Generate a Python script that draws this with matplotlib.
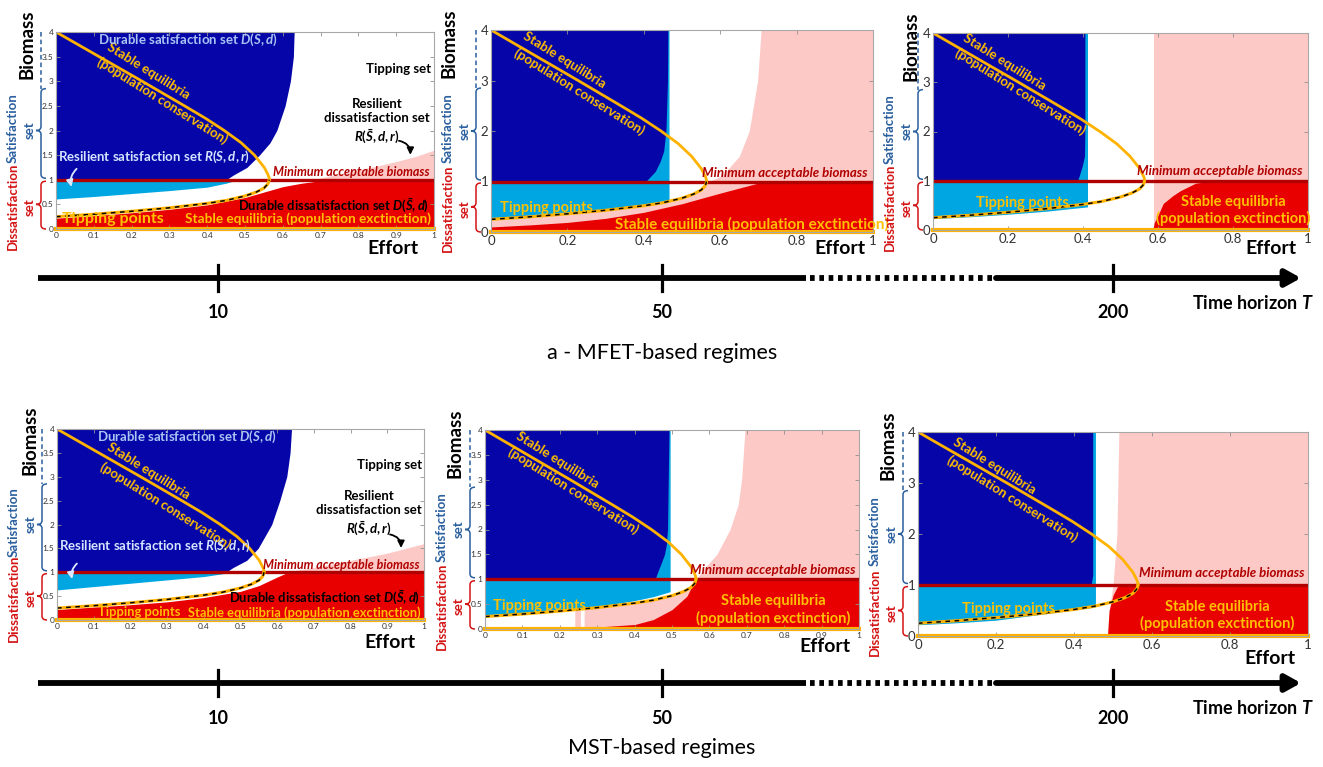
import numpy as np
import matplotlib.pyplot as plt
from matplotlib.path import Path
from matplotlib.patches import PathPatch

plt.rcParams['font.family'] = ['Lato', 'DejaVu Sans']
plt.rcParams['mathtext.fontset'] = 'custom'
plt.rcParams['mathtext.rm'] = 'Lato:bold'
plt.rcParams['mathtext.it'] = 'Lato:bold:italic'
plt.rcParams['mathtext.bf'] = 'Lato:bold'

# --- data (effort e, biomass B) ---
min_biomass = 1.0
extinct_B = 0.0
horizons = [10, 50, 200]
regimes = ['a - MFET-based regimes', 'MST-based regimes']

# stable equilibria (population conservation)
eq_high_e = [0.564, 0.5635, 0.561, 0.551, 0.525, 0.49, 0.445, 0.395, 0.34, 0.228, 0.114, 0.0]
eq_high_B = [1.0, 1.05, 1.1, 1.25, 1.5, 1.75, 2.0, 2.25, 2.5, 3.0, 3.5, 4.0]
# tipping points (unstable equilibria)
tip_e = [0.0, 0.1, 0.2, 0.3, 0.4, 0.45, 0.5, 0.53, 0.55, 0.56, 0.5625, 0.564]
tip_B = [0.25, 0.3, 0.36, 0.43, 0.52, 0.58, 0.67, 0.75, 0.83, 0.91, 0.95, 1.0]

# MFET, T = 10
p1_dblue_B = [4, 3.5, 3, 2.5, 2, 1.75, 1.5, 1.25, 1.1, 1.0]
p1_dblue_e = [0.63, 0.628, 0.62, 0.606, 0.584, 0.566, 0.538, 0.505, 0.47, 0.45]
p1_lblue_e = [0, 0.1, 0.2, 0.3, 0.4, 0.45, 0.48]
p1_lblue_low = [0.61, 0.66, 0.72, 0.78, 0.85, 0.93, 1.0]
p1_lblue_top = 1.0
p1_red_e = [0, 0.1, 0.2, 0.3, 0.4, 0.5, 0.55, 0.6, 0.65, 0.7, 0.75, 1.0]
p1_red_top = [0.22, 0.27, 0.33, 0.40, 0.49, 0.64, 0.75, 0.86, 0.93, 0.98, 1.0, 1.0]
p1_pink_e = [0.68, 0.75, 0.8, 0.85, 0.9, 0.95, 1.0]
p1_pink_top = [1.0, 1.12, 1.2, 1.28, 1.37, 1.47, 1.6]

# MFET, T = 50
p2_dblue_B = [4, 3, 2, 1.6, 1.4, 1.2, 1.0]
p2_dblue_e = [0.463, 0.462, 0.458, 0.452, 0.443, 0.43, 0.405]
p2_lblue_e = [0, 0.1, 0.2, 0.3, 0.4, 0.466]
p2_lblue_low = [0.26, 0.3, 0.36, 0.43, 0.52, 0.6]
p2_lblue_top = 4.0
p2_red_e = [0, 0.1, 0.2, 0.3, 0.4, 0.5, 0.6, 0.65, 0.7, 0.72, 1.0]
p2_red_top = [0.1, 0.14, 0.19, 0.27, 0.39, 0.56, 0.77, 0.87, 0.97, 1.0, 1.0]
p2_pink_e = [0, 0.1, 0.2, 0.3, 0.4, 0.5, 0.55, 0.57, 0.6, 0.615, 0.65, 0.676, 0.698, 0.707, 1.0]
p2_pink_top = [0.25, 0.3, 0.36, 0.43, 0.52, 0.67, 0.82, 1.0, 1.1, 1.2, 1.5, 2.0, 3.0, 4.0, 4.0]

# MFET, T = 200
p3_dblue_B = [4, 2, 1.5, 1.3, 1.1, 1.0]
p3_dblue_e = [0.405, 0.405, 0.404, 0.398, 0.39, 0.385]
p3_lblue_e = [0, 0.1, 0.2, 0.3, 0.4, 0.412]
p3_lblue_low = [0.23, 0.27, 0.32, 0.38, 0.46, 0.47]
p3_lblue_top = 4.0
p3_red_e = [0.586, 0.59, 0.6, 0.614, 0.64, 0.66, 0.7, 0.75, 1.0]
p3_red_top = [0.0, 0.15, 0.3, 0.54, 0.7, 0.8, 0.95, 1.0, 1.0]
p3_pink_e = [0.59, 1.0]
p3_pink_top = [4.0, 4.0]

# MST, T = 10
p4_dblue_B = [4, 3.5, 3, 2.5, 2, 1.5, 1.25, 1.1, 1.0]
p4_dblue_e = [0.639, 0.635, 0.626, 0.607, 0.585, 0.548, 0.517, 0.48, 0.46]
p4_lblue_e = [0, 0.1, 0.2, 0.3, 0.4, 0.47]
p4_lblue_low = [0.63, 0.7, 0.77, 0.84, 0.91, 0.99]
p4_lblue_top = 1.0
p4_red_e = [0, 0.1, 0.2, 0.3, 0.4, 0.5, 0.55, 0.6, 0.63, 1.0]
p4_red_top = [0.22, 0.27, 0.32, 0.38, 0.47, 0.6, 0.72, 0.9, 1.0, 1.0]
p4_pink_e = [0.62, 0.7, 0.8, 0.9, 1.0]
p4_pink_top = [1.0, 1.1, 1.25, 1.4, 1.6]

# MST, T = 50
p5_dblue_B = [4, 2, 1.7, 1.5, 1.3, 1.15, 1.0]
p5_dblue_e = [0.492, 0.488, 0.485, 0.48, 0.47, 0.462, 0.455]
p5_lblue_e = [0, 0.1, 0.2, 0.3, 0.4, 0.45, 0.495]
p5_lblue_low = [0.28, 0.32, 0.37, 0.45, 0.57, 0.65, 0.75]
p5_lblue_top = 4.0
p5_red_e = [0.27, 0.3, 0.4, 0.45, 0.5, 0.54, 0.557, 0.57, 1.0]
p5_red_top = [0.02, 0.04, 0.09, 0.19, 0.39, 0.66, 0.92, 1.0, 1.0]
p5_pink_e = [0.24, 0.255, 0.2551, 0.265, 0.2651, 0.3, 0.4, 0.5, 0.55, 0.566, 0.584,
             0.62, 0.655, 0.677, 0.686, 0.695, 1.0]
p5_pink_top = [0.37, 0.38, 0.0, 0.0, 0.39, 0.43, 0.52, 0.67, 0.82, 1.0, 1.2,
               1.5, 2.0, 2.5, 3.0, 4.0, 4.0]

# MST, T = 200
p6_dblue_B = [4, 1.2, 1.0]
p6_dblue_e = [0.448, 0.448, 0.444]
p6_lblue_e = [0, 0.1, 0.2, 0.3, 0.4, 0.455]
p6_lblue_low = [0.22, 0.26, 0.31, 0.41, 0.51, 0.57]
p6_lblue_top = 4.0
p6_red_e = [0.486, 0.49, 0.5, 0.51, 0.515, 1.0]
p6_red_top = [0.0, 0.5, 0.8, 0.95, 1.0, 1.0]
p6_pink_e = [0.485, 0.49, 0.5, 0.505, 0.51, 0.515, 1.0]
p6_pink_top = [0.0, 0.5, 1.0, 1.5, 2.0, 4.0, 4.0]

# colours
DBLUE = '#0606a8'
LBLUE = '#00a6e2'
RED = '#e80000'
PINK = '#fdc9c6'
LINE_RED = '#b00000'
YEL = '#ffb300'
TXT_Y = '#ffc000'
SAT_C = '#2a5f9e'
DIS_C = '#d41414'

W, H = 1323, 767
fig = plt.figure(figsize=(W / 100, H / 100), dpi=100)

# overlay in pixel coordinates for the decorations around the panels
ov = fig.add_axes([0, 0, 1, 1], zorder=10)
ov.set_xlim(0, W)
ov.set_ylim(H, 0)
ov.axis('off')


def px_axes(box):
    x0, x1, yt, yb = box
    return fig.add_axes([x0 / W, 1 - yb / H, (x1 - x0) / W, (yb - yt) / H])


def brace(x, ytop, ybot, ytip, color, w=5):
    r = 4
    verts = [(x + w, ytop), (x, ytop), (x, ytop + r),
             (x, ytip - r), (x, ytip), (x - w, ytip),
             (x, ytip), (x, ytip + r),
             (x, ybot - r), (x, ybot), (x + w, ybot)]
    codes = [Path.MOVETO, Path.CURVE3, Path.CURVE3,
             Path.LINETO, Path.CURVE3, Path.CURVE3,
             Path.CURVE3, Path.CURVE3,
             Path.LINETO, Path.CURVE3, Path.CURVE3]
    ov.add_patch(PathPatch(Path(verts, codes), fc='none', ec=color, lw=1.1))


def draw_panel(ax, box, pink, red, lblue, dblue, fine):
    ax.fill_between(pink[0], 0, pink[1], color=PINK, lw=0)
    ax.fill_between(red[0], 0, red[1], color=RED, lw=0)
    ax.fill_between(lblue[0], lblue[1], lblue[2], color=LBLUE, lw=0)
    ax.fill_betweenx(dblue[0], 0, dblue[1], color=DBLUE, lw=0)
    ax.axhline(min_biomass, color=LINE_RED, lw=2.4)
    ax.plot(eq_high_e, eq_high_B, color=YEL, lw=2)
    ax.plot(tip_e, tip_B, color=YEL, lw=2.2)
    ax.plot(tip_e, tip_B, color='k', lw=1.1, dashes=(3, 3))
    ax.axhline(extinct_B, color=YEL, lw=3, clip_on=False)
    ax.set_xlim(0, 1)
    ax.set_ylim(0, 4)
    if fine:
        xt, yt, fs = np.arange(0, 1.01, 0.1), np.arange(0, 4.01, 0.5), 6
    else:
        xt, yt, fs = np.arange(0, 1.01, 0.2), np.arange(0, 4.01, 1), 9.5
    ax.set_xticks(xt)
    ax.set_yticks(yt)
    ax.set_xticklabels(['%g' % round(v, 1) for v in xt])
    ax.set_yticklabels(['%g' % v for v in yt])
    ax.tick_params(direction='in', length=3, width=0.6, color='#909090',
                   labelcolor='#333333', labelsize=fs, top=True, right=True, pad=2)
    for s in ax.spines.values():
        s.set_color('#a8a8a8')
        s.set_linewidth(0.8)

    # side brackets
    x0, x1, ytp, ybt = box
    yp = lambda b: ybt - b / 4 * (ybt - ytp)
    xb = x0 - 15
    ov.plot([xb, xb], [yp(4), yp(2.85)], color=SAT_C, lw=1.1, dashes=(3, 2))
    brace(xb, yp(2.85), yp(1.03), yp(2.0), SAT_C)
    brace(xb, yp(0.97), yp(0.0), yp(0.5), DIS_C)
    ov.text(xb - 11, yp(2.0), 'set', color=SAT_C, fontsize=9.5, fontweight='bold',
            rotation=90, ha='center', va='center')
    ov.text(x0 - 43, yp(2.05), 'Satisfaction', color=SAT_C, fontsize=9.5,
            fontweight='bold', rotation=90, ha='center', va='center')
    ov.text(xb - 11, yp(0.45), 'set', color=DIS_C, fontsize=9.5, fontweight='bold',
            rotation=90, ha='center', va='center')
    ov.text(x0 - 43, yp(0.5) + 2, 'Dissatisfaction', color=DIS_C, fontsize=9.5,
            fontweight='bold', rotation=90, ha='center', va='center')


def txt(ax, x, y, s, color, size=9.5, ha='center', rot=0, style='normal'):
    ax.text(x, y, s, color=color, fontsize=size, fontweight='bold', ha=ha,
            va='center', rotation=rot, rotation_mode='anchor', fontstyle=style)


boxes = [(56, 434, 32, 229), (491, 873, 30, 232), (933, 1308, 33, 230),
         (57, 424, 429, 620), (485, 859, 430, 629), (918, 1308, 432, 636)]
panels = [
    ((p1_pink_e, p1_pink_top), (p1_red_e, p1_red_top),
     (p1_lblue_e, p1_lblue_low, p1_lblue_top), (p1_dblue_B, p1_dblue_e), True),
    ((p2_pink_e, p2_pink_top), (p2_red_e, p2_red_top),
     (p2_lblue_e, p2_lblue_low, p2_lblue_top), (p2_dblue_B, p2_dblue_e), False),
    ((p3_pink_e, p3_pink_top), (p3_red_e, p3_red_top),
     (p3_lblue_e, p3_lblue_low, p3_lblue_top), (p3_dblue_B, p3_dblue_e), False),
    ((p4_pink_e, p4_pink_top), (p4_red_e, p4_red_top),
     (p4_lblue_e, p4_lblue_low, p4_lblue_top), (p4_dblue_B, p4_dblue_e), True),
    ((p5_pink_e, p5_pink_top), (p5_red_e, p5_red_top),
     (p5_lblue_e, p5_lblue_low, p5_lblue_top), (p5_dblue_B, p5_dblue_e), True),
    ((p6_pink_e, p6_pink_top), (p6_red_e, p6_red_top),
     (p6_lblue_e, p6_lblue_low, p6_lblue_top), (p6_dblue_B, p6_dblue_e), False),
]
axs = []
for box, (pk, rd, lb, db, fine) in zip(boxes, panels):
    ax = px_axes(box)
    draw_panel(ax, box, pk, rd, lb, db, fine)
    axs.append(ax)

# axis labels (pixel positions)
biomass_pos = [(27, 44), (449, 43), (911, 46), (30, 440), (455, 443), (888, 445)]
effort_pos = [(393, 248), (840, 248), (1271, 248), (390, 642), (825, 646), (1270, 658)]
for (bx, by), (ex, ey) in zip(biomass_pos, effort_pos):
    ov.text(bx, by, 'Biomass', fontsize=13.5, fontweight='bold', rotation=90,
            ha='center', va='center')
    ov.text(ex, ey, 'Effort', fontsize=14, fontweight='bold', ha='center', va='center')

# curve labels along the conservation branch
cons_pos = [((0.244, 3.2), (0.28, 2.6)), ((0.193, 3.4), (0.23, 2.79)),
            ((0.19, 3.42), (0.233, 2.81)), ((0.25, 3.11), (0.296, 2.4)),
            ((0.193, 3.4), (0.236, 2.78)), ((0.196, 3.34), (0.241, 2.7))]
for ax, (a, b) in zip(axs, cons_pos):
    txt(ax, a[0], a[1], 'Stable equilibria', TXT_Y, 9.5, rot=-32)
    txt(ax, b[0], b[1], '(population conservation)', TXT_Y, 9.5, rot=-32)

# short-horizon panels (T = 10)
for ax, k in [(axs[0], 0), (axs[3], 1)]:
    dy = [0.0, 0.08][k]
    txt(ax, 0.11, 3.84, 'Durable satisfaction set $D(S,d)$', '#a8c4f2', ha='left')
    txt(ax, 0.906, 3.25, 'Tipping set', 'k')
    ax.text(0.85, 2.18 + dy / 2, 'Resilient\ndissatisfaction set\n$R(\\bar{S},d,r)$',
            fontsize=9.5, fontweight='bold', ha='center', va='center', linespacing=1.25)
    ax.annotate('', xy=(0.937, 1.45), xytext=(0.9, 1.8),
                arrowprops=dict(arrowstyle='-|>', color='k', lw=1.3,
                                connectionstyle='arc3,rad=-0.5'))
    txt(ax, 0.006, 1.47 + dy, 'Resilient satisfaction set $R(S,d,r)$', '#d4e4ff', ha='left')
    ax.annotate('', xy=(0.043, 0.8), xytext=(0.06, 1.26 - dy / 2),
                arrowprops=dict(arrowstyle='-|>', color='#dce8ff', lw=1.3,
                                connectionstyle='arc3,rad=0.35'))
    txt(ax, 0.988, 1.16, 'Minimum acceptable biomass', LINE_RED, 9, ha='right', style='italic')
    txt(ax, 0.988, 0.46, 'Durable dissatisfaction set $D(\\bar{S},d)$', 'k', 9.3, ha='right')
    txt(ax, [0.015, 0.113][k], [0.2, 0.16][k], 'Tipping points', TXT_Y,
        [11.5, 9.3][k], ha='left')
    txt(ax, 0.992, [0.2, 0.16][k], 'Stable equilibria (population exctinction)',
        TXT_Y, [9.8, 9.3][k], ha='right')

# T = 50 and T = 200 panels
txt(axs[1], 0.023, 0.47, 'Tipping points', TXT_Y, 10.5, ha='left')
txt(axs[1], 0.324, 0.145, 'Stable equilibria (population exctinction)', TXT_Y, 11, ha='left')
txt(axs[1], 0.985, 1.17, 'Minimum acceptable biomass', LINE_RED, 9.5, ha='right', style='italic')

txt(axs[2], 0.116, 0.54, 'Tipping points', TXT_Y, 10.5, ha='left')
axs[2].text(0.8, 0.4, 'Stable equilibria\n(population exctinction)', color=TXT_Y,
            fontsize=10.5, fontweight='bold', ha='center', va='center', linespacing=1.2)
txt(axs[2], 0.985, 1.19, 'Minimum acceptable biomass', LINE_RED, 9.5, ha='right', style='italic')

txt(axs[4], 0.022, 0.47, 'Tipping points', TXT_Y, 10.5, ha='left')
axs[4].text(0.77, 0.38, 'Stable equilibria\n(population exctinction)', color=TXT_Y,
            fontsize=10.5, fontweight='bold', ha='center', va='center', linespacing=1.2)
txt(axs[4], 0.99, 1.19, 'Minimum acceptable biomass', LINE_RED, 9.5, ha='right', style='italic')

txt(axs[5], 0.113, 0.52, 'Tipping points', TXT_Y, 10.5, ha='left')
axs[5].text(0.768, 0.4, 'Stable equilibria\n(population exctinction)', color=TXT_Y,
            fontsize=10.5, fontweight='bold', ha='center', va='center', linespacing=1.2)
txt(axs[5], 0.99, 1.23, 'Minimum acceptable biomass', LINE_RED, 9.5, ha='right', style='italic')

# time-horizon arrows
tick_x = [218, 662, 1113]
for y, cap_y, cap in [(278, 353, regimes[0]), (683, 748, regimes[1])]:
    ov.plot([38, 806], [y, y], color='k', lw=4.2, solid_capstyle='butt')
    ov.plot([810, 994], [y, y], color='k', lw=4.2, dashes=(0.8, 0.8))
    ov.annotate('', xy=(1301, y), xytext=(996, y),
                arrowprops=dict(arrowstyle='-|>,head_length=0.9,head_width=0.5',
                                color='k', lw=4.2, shrinkA=0, shrinkB=0))
    for xt, h in zip(tick_x, horizons):
        ov.plot([xt, xt], [y - 13, y + 13], color='k', lw=2.3)
        ov.text(xt, y + 35, str(h), fontsize=13, fontweight='bold', ha='center', va='center')
    ov.text(1314, y + 25, 'Time horizon $T$', fontsize=13, fontweight='bold',
            ha='right', va='center')
    ov.text(662, cap_y, cap, fontsize=15.5, ha='center', va='center')

fig.savefig('out.png', dpi=100)
